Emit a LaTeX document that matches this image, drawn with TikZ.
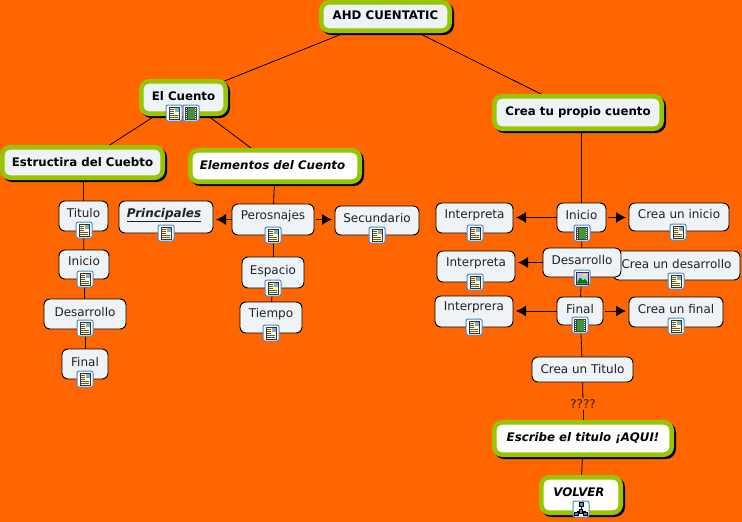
\documentclass[tikz,border=0pt]{standalone}
\usepackage{fontspec}
\setmainfont{DejaVu Sans}
\usetikzlibrary{shadows,arrows.meta,backgrounds}
\definecolor{bgorange}{HTML}{FF6600}
\definecolor{leaf}{HTML}{99C400}
\definecolor{pale}{HTML}{EDF3F7}
\definecolor{ink}{HTML}{222222}
\definecolor{iconblue}{HTML}{4F86C6}
\tikzset{
  x=1pt,y=-1pt,
  basebox/.style={rectangle,inner sep=0pt,outer sep=0pt,align=center,text height=8pt,text depth=2pt},
  softbox/.style={basebox,draw=black,line width=0.9pt,rounded corners=6pt,fill=pale,text=ink,font=\fontsize{12}{14}\selectfont},
  heavybox/.style={basebox,rounded corners=8pt,line width=4.6pt,draw=leaf,fill=pale,text=black,
    font=\fontsize{11.8}{14}\selectfont\bfseries,
    general shadow={fill=black,draw=black,shadow xshift=2pt,shadow yshift=-2pt}},
  whitebox/.style={heavybox,fill=white,font=\fontsize{11.8}{14}\selectfont\bfseries\itshape},
  link/.style={draw=black,line width=0.8pt},
  pointer/.style={link,-{Latex[length=10pt,width=11pt]},shorten >=3pt,shorten <=2pt},
  iconframe/.style={draw=iconblue,line width=1pt,fill=white,rounded corners=2pt},
  docicon/.pic={
    \path[iconframe] (-8,-8) rectangle (8,8);
    \path[draw=black!80,line width=.6pt,fill=yellow!25] (-5,-6) rectangle (5,6);
    \path[fill=iconblue!70] (0.5,-5.5) rectangle (4.5,-1);
    \foreach \yy in {-4,-2,0,2,4}{\path[draw=black!65,line width=.5pt] (-4,\yy) -- ({\yy<1?0:4},\yy);}
  },
  filmicon/.pic={
    \path[iconframe] (-8,-8) rectangle (8,8);
    \path[fill=black!75] (-6,-6.5) rectangle (6,6.5);
    \path[fill=green!45!black!75] (-3.5,-5.5) rectangle (3.5,-.4);
    \path[fill=green!45!black!75] (-3.5,.4) rectangle (3.5,5.5);
    \foreach \yy in {-5,-3,-1,1,3,5}{\path[fill=white] (-5.4,\yy-.5) rectangle (-4.4,\yy+.5);\path[fill=white] (4.4,\yy-.5) rectangle (5.4,\yy+.5);}
  },
  photoicon/.pic={
    \path[iconframe] (-8,-8) rectangle (8,8);
    \path[draw=black!80,line width=.8pt,fill=blue!25] (-6,-6) rectangle (6,6);
    \path[fill=yellow] (2.5,-3) circle (1.6);
    \path[fill=green!50!black] (-5.6,5.6) -- (-2,-.5) -- (1,2.5) -- (3,1) -- (5.6,4) -- (5.6,5.6) -- cycle;
  },
  mapicon/.pic={
    \path[iconframe] (-8,-8) rectangle (8,8);
    \path[draw=black,line width=.6pt] (0,-3) -- (0,2) (-4,2) -- (4,2) (-4,2) -- (-4,3) (4,2) -- (4,3);
    \path[fill=iconblue,draw=black,line width=.4pt] (-2,-6.5) rectangle (2,-3);
    \path[fill=iconblue,draw=black,line width=.4pt] (-6.5,3) rectangle (-2.5,6.5);
    \path[fill=iconblue,draw=black,line width=.4pt] (2.5,3) rectangle (6.5,6.5);
    \path[fill=iconblue,draw=black,line width=.4pt] (-1.5,0) rectangle (1.5,4);
  }
}
\newcommand{\softnode}[7]{\node[softbox,minimum width={(#4-#2)*1pt},minimum height={(#5-#3)*1pt}] (#1) at ({(#2+#4)/2},{(#3+#5)/2}) {\raisebox{#6pt}{#7}};}
\newcommand{\heavynode}[8]{\node[#1,minimum width={(#5-#3-4.6)*1pt},minimum height={(#6-#4-4.6)*1pt}] (#2) at ({(#3+#5)/2},{(#4+#6)/2}) {\raisebox{#7pt}{#8}};}
\pgfdeclarelayer{backdrop}
\pgfdeclarelayer{links}
\pgfsetlayers{backdrop,links,main}
\begin{document}
\begin{tikzpicture}
\begin{pgfonlayer}{backdrop}
\path[fill=bgorange,use as bounding box] (0,0) rectangle (742,522);
\end{pgfonlayer}
\heavynode{heavybox}{ahd}{319}{0}{452}{33}{0}{AHD CUENTATIC}
\heavynode{heavybox}{cuento}{139}{79}{228}{116}{0.5}{El Cuento}
\heavynode{heavybox}{estruct}{0}{145}{165}{180}{-0.5}{Estructira del Cuebto}
\heavynode{whitebox}{elem}{188}{148}{362}{184}{0}{Elementos del Cuento\hspace*{5pt}}
\heavynode{heavybox}{crea}{492}{94}{664}{131}{0}{Crea tu propio cuento}
\heavynode{whitebox}{escribe}{492}{420}{674}{457}{0}{Escribe el titulo ¡AQUI!}
\heavynode{whitebox}{volver}{539}{475}{623}{515}{2}{VOLVER\hspace*{4pt}}
\softnode{ltitulo}{59}{201}{108}{231}{1.5}{Titulo}
\softnode{linicio}{59}{250}{109}{279}{2}{Inicio}
\softnode{ldes}{44}{299}{126}{329}{1}{Desarrollo}
\softnode{lfinal}{62}{349}{108}{379}{1}{Final}
\softnode{princ}{119}{201}{213}{233}{3}{\bfseries\itshape\underline{Principales}\hspace*{4pt}}
\softnode{pers}{232}{204}{314}{235}{3}{Perosnajes}
\softnode{secu}{335}{206}{419}{235}{1}{Secundario}
\softnode{espacio}{242}{257}{304}{288}{1}{Espacio}
\softnode{tiempo}{240}{302}{302}{333}{3}{Tiempo}
\softnode{interA}{436}{203}{513}{233}{3}{Interpreta}
\softnode{inicio}{557}{203}{606}{232}{1}{Inicio}
\softnode{creaA}{629}{203}{729}{231}{2}{Crea un inicio}
\softnode{interB}{437}{251}{515}{282}{3}{Interpreta}
\softnode{creaB}{613}{251}{740}{280}{0}{Crea un desarrollo}
\softnode{des}{543}{248}{621}{277}{1}{Desarrollo}
\softnode{interC}{435}{296}{513}{327}{4}{Interprera}
\softnode{final}{557}{297}{603}{325}{1}{Final}
\softnode{creaC}{629}{297}{723}{327}{1.5}{Crea un final}
\softnode{ctitulo}{532}{357}{633}{382}{-0.5}{Crea un Titulo}
\node[inner sep=1pt,fill=bgorange,text=ink,font=\fontsize{12}{14}\selectfont] (qq) at (583,404) {????};
\begin{pgfonlayer}{links}
\draw[link] (ahd) -- (cuento);
\draw[link] (ahd) -- (crea);
\draw[link] (cuento) -- (estruct);
\draw[link] (cuento) -- (elem);
\draw[link] (estruct.south -| ltitulo) -- (ltitulo);
\draw[link] (ltitulo) -- (linicio);
\draw[link] (linicio) -- (ldes);
\draw[link] (ldes) -- (lfinal);
\draw[link] (elem) -- (pers);
\draw[link] (pers) -- (espacio);
\draw[link] (espacio) -- (tiempo);
\draw[link] (crea.south -| inicio) -- (inicio);
\draw[link] (inicio) -- (des);
\draw[link] (des) -- (final);
\draw[link] (final) -- (ctitulo);
\draw[link] (ctitulo) -- (qq);
\draw[link] (qq) -- (escribe.north -| qq);
\draw[link] (escribe) -- (volver);
\end{pgfonlayer}
\begin{scope}[yshift=1.5pt]
\draw[pointer,shorten <=0pt] (pers.west) -- (pers.west -| princ.east);
\draw[pointer] (pers.east) -- (pers.east -| secu.west);
\draw[pointer,shorten <=0pt] (inicio.west) -- (inicio.west -| interA.east);
\draw[pointer] (inicio.east) -- (inicio.east -| creaA.west);
\draw[pointer,shorten <=0pt] (final.west) -- (final.west -| interC.east);
\draw[pointer] (final.east) -- (final.east -| creaC.west);
\end{scope}
\draw[pointer,shorten <=0pt] (des.west) -- (des.west -| interB.east);
\pic at (174,113) {docicon};
\pic at (191,113) {filmicon};
\pic at (84,230) {docicon};
\pic at (85,279) {docicon};
\pic at (85,328) {docicon};
\pic at (85,379) {docicon};
\pic at (166,233) {docicon};
\pic at (273,235) {docicon};
\pic at (377,235) {docicon};
\pic at (273,288) {docicon};
\pic at (271,333) {docicon};
\pic at (475,233) {docicon};
\pic at (582,233) {filmicon};
\pic at (678,232) {docicon};
\pic at (475,282) {docicon};
\pic at (582,278) {photoicon};
\pic at (676,281) {docicon};
\pic at (474,327) {docicon};
\pic at (580,325) {filmicon};
\pic at (676,326) {docicon};
\pic at (581,509) {mapicon};
\end{tikzpicture}
\end{document}
